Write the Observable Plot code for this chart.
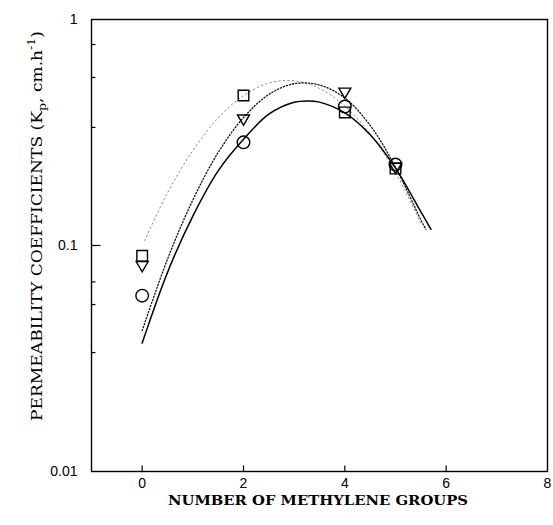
<!DOCTYPE html>
<html><head><meta charset="utf-8">
<script src="https://cdn.jsdelivr.net/npm/d3@7"></script>
<script src="https://cdn.jsdelivr.net/npm/@observablehq/plot@0.6"></script>
<style>body{margin:0;background:#fff} #chart{width:553px;height:525px}</style>
</head><body><div id="chart"></div>
<script>
// Measured data (number of methylene groups vs permeability coefficient)
const groups = [0, 2, 4, 5];
const circleValues = [0.060, 0.286, 0.412, 0.228];
const squareValues = [0.090, 0.461, 0.388, 0.219];
const triangleValues = [0.082, 0.365, 0.480, 0.223];

// Fitted curves
const solidFitX = [0, 0.5, 1, 1.5, 2, 2.5, 3, 3.25, 3.5, 4, 4.5, 5, 5.5, 5.7];
const solidFitY = [0.037, 0.076, 0.135, 0.214, 0.295, 0.381, 0.430, 0.436, 0.431, 0.386, 0.309, 0.220, 0.141, 0.118];
const denseFitX = [0, 0.5, 1, 1.5, 2, 2.5, 3, 3.5, 4, 4.5, 5, 5.5, 5.6];
const denseFitY = [0.042, 0.087, 0.159, 0.258, 0.368, 0.466, 0.520, 0.513, 0.449, 0.340, 0.222, 0.130, 0.118];
const faintFitX = [0.05, 0.5, 1, 1.5, 2, 2.5, 3, 3.5, 4, 4.5, 5, 5.5];
const faintFitY = [0.105, 0.171, 0.263, 0.367, 0.460, 0.523, 0.535, 0.495, 0.414, 0.312, 0.211, 0.125];

// Axes
const xTickValues = [0, 2, 4, 6, 8];
const xTickMarks = [0, 2, 4, 6];
const yTickValues = [0.01, 0.1, 1];
const yTickLabels = ["0.01", "0.1", "1"];
const yMajorMarks = [0.1];
const yMinorMarks = [0.775, 0.554, 0.333, 0.069, 0.0548, 0.0336];
const xTitle = "NUMBER OF METHYLENE GROUPS";
const yTitleParts = ["PERMEABILITY COEFFICIENTS (K", "p", ", cm.h", "-1", ")"];

const pts = (xs, ys) => xs.map((x, i) => ({x, y: ys[i]}));
const circles = pts(groups, circleValues);
const squares = pts(groups, squareValues);
const triangles = pts(groups, triangleValues);

const tickUp = {draw(ctx) { ctx.moveTo(0, 0); ctx.lineTo(0, -6); }};
const tickRightMajor = {draw(ctx) { ctx.moveTo(0, 0); ctx.lineTo(9, 0); }};
const tickRightMinor = {draw(ctx) { ctx.moveTo(0, 0); ctx.lineTo(4, 0); }};
const triangleDown = {draw(ctx) {
  const s = 12, h = s * Math.sqrt(3) / 2;
  ctx.moveTo(-s / 2, -h / 3); ctx.lineTo(s / 2, -h / 3); ctx.lineTo(0, 2 * h / 3); ctx.closePath();
}};
const squareSym = {draw(ctx) { const a = 5.3; ctx.rect(-a, -a, 2 * a, 2 * a); }};

const svg = Plot.plot({
  width: 553,
  height: 525,
  marginLeft: 91,
  marginRight: 6,
  marginTop: 19,
  marginBottom: 54,
  style: {fontFamily: "'Liberation Sans', Arial, sans-serif", fontSize: "14px", background: "white", color: "black", overflow: "visible"},
  x: {domain: [-1, 8], ticks: xTickValues, tickSize: 0, tickPadding: 7, label: null},
  y: {type: "log", domain: [0.01, 1], ticks: yTickValues, tickFormat: d => yTickLabels[yTickValues.indexOf(d)], tickSize: 0, tickPadding: 14, label: null},
  marks: [
    Plot.line(pts(faintFitX, faintFitY), {x: "x", y: "y", curve: "catmull-rom", stroke: "#8a8a8a", strokeWidth: 1, strokeDasharray: "1.5,3"}),
    Plot.line(pts(denseFitX, denseFitY), {x: "x", y: "y", curve: "catmull-rom", stroke: "#111", strokeWidth: 1.3, strokeDasharray: "1.2,2"}),
    Plot.line(pts(solidFitX, solidFitY), {x: "x", y: "y", curve: "catmull-rom", stroke: "black", strokeWidth: 1.5}),
    Plot.dot(squares, {x: "x", y: "y", symbol: squareSym, fill: "none", stroke: "black", strokeWidth: 1.4}),
    Plot.dot(triangles, {x: "x", y: "y", symbol: triangleDown, fill: "none", stroke: "black", strokeWidth: 1.4}),
    Plot.dot(circles, {x: "x", y: "y", r: 6.3, fill: "none", stroke: "black", strokeWidth: 1.4}),
    Plot.dot(xTickMarks, {x: d => d, y: () => 0.01, symbol: tickUp, fill: "none", stroke: "black", strokeWidth: 1.2}),
    Plot.dot(yMajorMarks, {x: () => -1, y: d => d, symbol: tickRightMajor, fill: "none", stroke: "black", strokeWidth: 1.2}),
    Plot.dot(yMinorMarks, {x: () => -1, y: d => d, symbol: tickRightMinor, fill: "none", stroke: "black", strokeWidth: 1.2}),
    Plot.frame({stroke: "black", strokeWidth: 1.4})
  ]
});

const s = d3.select(svg);
// enlarge axis tick labels
s.selectAll('g[aria-label*="axis"]').style("font-size", "14px");
s.selectAll('g[aria-label*="axis"] text').style("font-size", "14px");

s.append("text")
  .attr("x", 318).attr("y", 505)
  .attr("text-anchor", "middle")
  .attr("font-family", "'DejaVu Serif', 'Liberation Serif', serif")
  .attr("font-weight", "bold")
  .style("font-size", "13.5px")
  .attr("textLength", 300)
  .attr("lengthAdjust", "spacingAndGlyphs")
  .attr("fill", "black")
  .text(xTitle);

const yt = s.append("text")
  .attr("transform", "translate(42,226) rotate(-90)")
  .attr("text-anchor", "middle")
  .attr("font-family", "'DejaVu Serif', 'Liberation Serif', serif")
  .style("font-size", "15px")
  .attr("textLength", 390)
  .attr("lengthAdjust", "spacingAndGlyphs")
  .attr("fill", "black");
yt.append("tspan").text(yTitleParts[0]);
yt.append("tspan").attr("dy", 4).style("font-size", "11px").text(yTitleParts[1]);
yt.append("tspan").attr("dy", -4).text(yTitleParts[2]);
yt.append("tspan").attr("dy", -7).style("font-size", "11px").text(yTitleParts[3]);
yt.append("tspan").attr("dy", 7).text(yTitleParts[4]);

document.getElementById("chart").appendChild(svg);
</script>
</body></html>
